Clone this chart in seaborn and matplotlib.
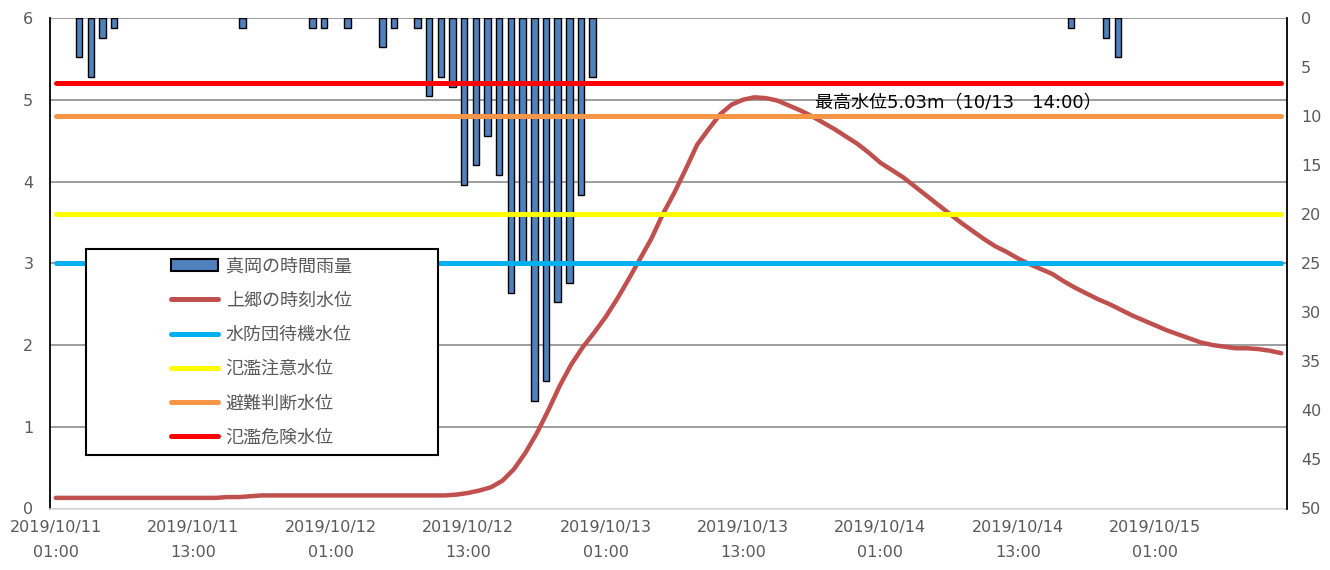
import numpy as np
import pandas as pd
import matplotlib
matplotlib.use("Agg")
import matplotlib.pyplot as plt
import seaborn as sns
from matplotlib.patches import Patch, Rectangle
from matplotlib.lines import Line2D

# hourly categories, first = 2019/10/11 01:00
hours = list(range(108))
water_level = [
    0.13, 0.13, 0.13, 0.13, 0.13, 0.13, 0.13, 0.13, 0.13, 0.13, 0.13, 0.13, 0.13, 0.13,
    0.13, 0.14, 0.14, 0.15,
    0.16, 0.16, 0.16, 0.16, 0.16, 0.16, 0.16, 0.16, 0.16, 0.16, 0.16, 0.16, 0.16, 0.16,
    0.16, 0.16, 0.16,
    0.17, 0.19, 0.22, 0.26, 0.34, 0.48, 0.68, 0.92, 1.20, 1.50, 1.76, 1.97, 2.15, 2.34,
    2.56, 2.80, 3.05, 3.30, 3.60, 3.86, 4.15, 4.45, 4.64, 4.82, 4.94, 5.00, 5.03, 5.02,
    4.99, 4.93, 4.87, 4.80, 4.72, 4.64, 4.55, 4.46, 4.35, 4.23, 4.14, 4.05, 3.94, 3.83,
    3.72, 3.61, 3.50, 3.40, 3.30, 3.21, 3.14, 3.06, 2.99, 2.93, 2.87, 2.78, 2.70, 2.63,
    2.56, 2.50, 2.43, 2.36, 2.30, 2.24, 2.18, 2.13, 2.08, 2.03, 2.00, 1.98, 1.96, 1.96,
    1.95, 1.93, 1.90,
]

# rain is on its own (secondary) category axis with 106 hours
rain_hours = list(range(106))
rain = [
    0, 0, 4, 6, 2, 1, 0, 0, 0, 0,
    0, 0, 0, 0, 0, 0, 1, 0, 0, 0,
    0, 0, 1, 1, 0, 1, 0, 0, 3, 1,
    0, 1, 8, 6, 7, 17, 15, 12, 16, 28,
    25, 39, 37, 29, 27, 18, 6, 0, 0, 0,
    0, 0, 0, 0, 0, 0, 0, 0, 0, 0,
    0, 0, 0, 0, 0, 0, 0, 0, 0, 0,
    0, 0, 0, 0, 0, 0, 0, 0, 0, 0,
    0, 0, 0, 0, 0, 0, 0, 1, 0, 0,
    2, 4, 0, 0, 0, 0, 0, 0, 0, 0,
    0, 0, 0, 0, 0, 0,
]

tick_hours = [0, 12, 24, 36, 48, 60, 72, 84, 96]
tick_labels = [
    "2019/10/11\n01:00", "2019/10/11\n13:00", "2019/10/12\n01:00",
    "2019/10/12\n13:00", "2019/10/13\n01:00", "2019/10/13\n13:00",
    "2019/10/14\n01:00", "2019/10/14\n13:00", "2019/10/15\n01:00",
]

level_names = ["水防団待機水位", "氾濫注意水位", "避難判断水位", "氾濫危険水位"]
level_values = [3.0, 3.6, 4.8, 5.2]
level_colors = ["#00B0F0", "#FFFF00", "#F79646", "#FF0000"]

rain_name = "真岡の時間雨量"
water_name = "上郷の時刻水位"
peak_text = "最高水位5.03m（10/13　14:00）"

sns.set_theme(style="white")
plt.rcParams["font.family"] = ["Noto Sans CJK JP", "DejaVu Sans"]

grey_txt = "#595959"
num_font = ["DejaVu Sans", "Noto Sans CJK JP"]
fig = plt.figure(figsize=(13.3, 5.7), dpi=100)
rect = [50 / 1330, 1 - 508.5 / 570, 1237 / 1330, 490.5 / 570]

# bottom axes: grid, left scale, x labels
ax = fig.add_axes(rect)
ax.set_xlim(-0.5, 107.5)
ax.set_ylim(0, 6)
ax.set_yticks(range(0, 7))
ax.yaxis.grid(True, color="#8c8c8c", linewidth=1.2)
ax.set_xticks(tick_hours)
ax.set_xticklabels(tick_labels, linespacing=1.9)
ax.tick_params(axis="both", length=0, labelsize=11.5, labelcolor=grey_txt)
ax.tick_params(axis="y", pad=12)
ax.tick_params(axis="x", pad=8)
for lab in ax.get_xticklabels() + ax.get_yticklabels():
    lab.set_fontfamily(num_font)
for s in ["top", "right"]:
    ax.spines[s].set_visible(False)
ax.spines["left"].set_color("black")
ax.spines["left"].set_linewidth(1.3)
ax.spines["bottom"].set_color("#d9d9d9")
ax.spines["bottom"].set_linewidth(1.2)

# middle axes: rain bars, inverted right scale
ax_rain = fig.add_axes(rect, facecolor="none")
rain_df = pd.DataFrame({"hour": rain_hours, "rain": rain})
rain_df = rain_df[rain_df["rain"] > 0]
sns.barplot(data=rain_df, x="hour", y="rain", native_scale=True, width=0.55,
            color="#4F81BD", saturation=1, edgecolor="black", linewidth=1.0,
            errorbar=None, ax=ax_rain)
ax_rain.set_xlim(-0.5, 105.5)
ax_rain.set_ylim(50, 0)
ax_rain.set_yticks(range(0, 51, 5))
ax_rain.yaxis.tick_right()
ax_rain.set_xlabel("")
ax_rain.set_ylabel("")
ax_rain.xaxis.set_visible(False)
ax_rain.tick_params(axis="y", length=0, labelsize=11.5, labelcolor=grey_txt, pad=10)
for lab in ax_rain.get_yticklabels():
    lab.set_fontfamily(num_font)
for s in ["top", "left", "bottom"]:
    ax_rain.spines[s].set_visible(False)
ax_rain.spines["right"].set_color("black")
ax_rain.spines["right"].set_linewidth(1.3)

# top axes: water level and warning levels
ax_top = fig.add_axes(rect, sharex=ax, sharey=ax, facecolor="none")
ax_top.axis("off")
sns.lineplot(x=hours, y=water_level, color="#C0504D", linewidth=3.2,
             solid_capstyle="round", ax=ax_top)
for name, val, col in zip(level_names, level_values, level_colors):
    sns.lineplot(x=hours, y=[val] * len(hours), color=col, linewidth=3.6,
                 solid_capstyle="round", ax=ax_top)

ax_top.text(66.3, 4.96, peak_text, fontsize=13, color="black", ha="left",
            va="center", family=num_font)

frame = Rectangle((0.029, 0.109), 0.285, 0.42, transform=ax_top.transAxes,
                  facecolor="white", edgecolor="black", linewidth=1.5, zorder=10)
ax_top.add_patch(frame)
handles = [Patch(facecolor="#4F81BD", edgecolor="black", linewidth=1.5),
           Line2D([], [], color="#C0504D", linewidth=3.6, solid_capstyle="round")]
handles += [Line2D([], [], color=c, linewidth=3.6, solid_capstyle="round") for c in level_colors]
labels = [rain_name, water_name] + level_names
leg = ax_top.legend(handles, labels, loc="center", bbox_to_anchor=(0.171, 0.319),
                    frameon=False, fontsize=13, handlelength=2.6, labelspacing=0.9,
                    handletextpad=0.4, labelcolor=grey_txt)
leg.set_zorder(11)

fig.savefig("out.png", dpi=100)
